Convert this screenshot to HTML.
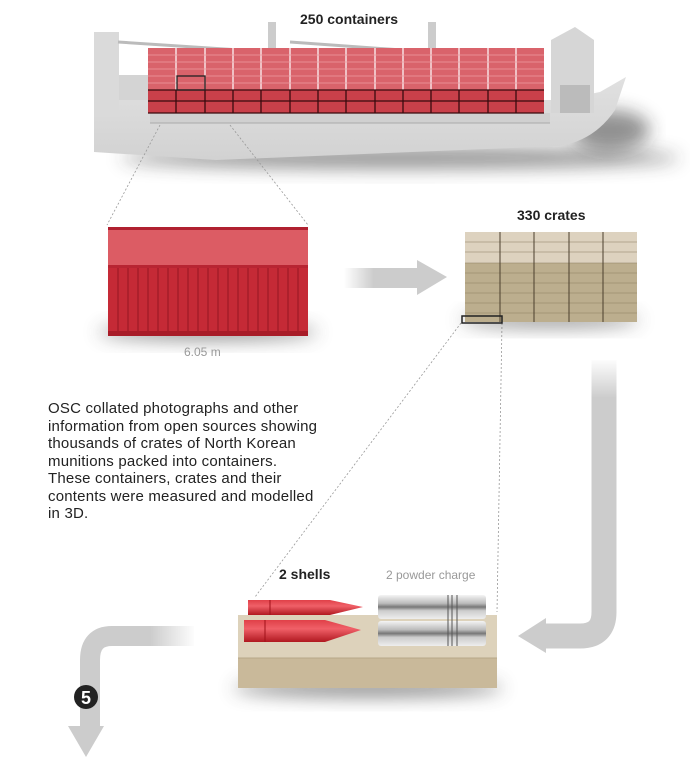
<!DOCTYPE html>
<html><head><meta charset="utf-8"><style>
html,body{margin:0;padding:0;background:#fff;}
body{width:690px;height:766px;position:relative;overflow:hidden;font-family:"Liberation Sans",sans-serif;}
.t{position:absolute;white-space:nowrap;}
</style></head><body>
<svg width="690" height="766" style="position:absolute;left:0;top:0">
<defs>
<filter id="blur" x="-20%" y="-80%" width="140%" height="260%"><feGaussianBlur stdDeviation="9"/></filter>
<linearGradient id="wL" x1="0" x2="1"><stop offset="0" stop-color="#fff" stop-opacity="0"/><stop offset="1" stop-color="#fff" stop-opacity="1"/></linearGradient>
<linearGradient id="wR" x1="0" x2="1"><stop offset="0" stop-color="#fff" stop-opacity="1"/><stop offset="1" stop-color="#fff" stop-opacity="0"/></linearGradient>
<linearGradient id="wT" x1="0" y1="0" x2="0" y2="1"><stop offset="0" stop-color="#fff" stop-opacity="1"/><stop offset="1" stop-color="#fff" stop-opacity="0"/></linearGradient>
<linearGradient id="metal" x1="0" y1="0" x2="0" y2="1"><stop offset="0" stop-color="#f4f4f4"/><stop offset="0.35" stop-color="#bbb"/><stop offset="0.5" stop-color="#777"/><stop offset="0.65" stop-color="#ccc"/><stop offset="1" stop-color="#eee"/></linearGradient>
<linearGradient id="shell" x1="0" y1="0" x2="0" y2="1"><stop offset="0" stop-color="#e04048"/><stop offset="0.4" stop-color="#f06068"/><stop offset="1" stop-color="#b01820"/></linearGradient>
<linearGradient id="hull" x1="0" y1="0" x2="0" y2="1"><stop offset="0" stop-color="#e8e8e8"/><stop offset="1" stop-color="#d2d2d2"/></linearGradient>
</defs>
<!-- ship shadow -->
<ellipse cx="400" cy="158" rx="280" ry="10" fill="#333" opacity="0.55" filter="url(#blur)"/>
<ellipse cx="610" cy="130" rx="40" ry="20" fill="#222" opacity="0.5" filter="url(#blur)"/>
<!-- hull -->
<path d="M94,32 L119,32 L119,100 L560,100 L600,92 L626,77 L615,110 Q595,140 560,146 L216,160 L94,152 Z" fill="url(#hull)"/>
<rect x="150" y="113" width="400" height="10" fill="#d0d0d0"/>
<line x1="150" y1="123" x2="550" y2="123" stroke="#aaa"/>
<!-- stern tower -->
<rect x="94" y="32" width="25" height="85" fill="#dadada"/>
<rect x="119" y="75" width="30" height="25" fill="#d4d4d4"/>
<!-- bow superstructure -->
<path d="M551,40 L575,27 L594,40 L594,113 L551,113Z" fill="#d6d6d6"/>
<rect x="560" y="85" width="30" height="28" fill="#bbb"/>
<!-- cranes -->
<line x1="118" y1="42" x2="270" y2="52" stroke="#bbb" stroke-width="3"/>
<line x1="290" y1="42" x2="430" y2="52" stroke="#bbb" stroke-width="3"/>
<rect x="268" y="22" width="8" height="32" fill="#ccc"/>
<rect x="428" y="22" width="8" height="32" fill="#ccc"/>
<!-- containers -->
<rect x="148" y="48" width="396" height="42" fill="#d9636b"/>
<rect x="148" y="90" width="396" height="23" fill="#c9404a"/>
<g stroke="#fff" stroke-width="1.2">
<line x1="176" y1="48" x2="176" y2="90"/><line x1="205" y1="48" x2="205" y2="90"/><line x1="233" y1="48" x2="233" y2="90"/><line x1="261" y1="48" x2="261" y2="90"/><line x1="290" y1="48" x2="290" y2="90"/><line x1="318" y1="48" x2="318" y2="90"/><line x1="346" y1="48" x2="346" y2="90"/><line x1="375" y1="48" x2="375" y2="90"/><line x1="403" y1="48" x2="403" y2="90"/><line x1="431" y1="48" x2="431" y2="90"/><line x1="459" y1="48" x2="459" y2="90"/><line x1="488" y1="48" x2="488" y2="90"/><line x1="516" y1="48" x2="516" y2="90"/>
</g>
<g stroke="#ee9aa0" stroke-width="0.7">
<line x1="148" y1="55" x2="544" y2="55"/><line x1="148" y1="62" x2="544" y2="62"/><line x1="148" y1="69" x2="544" y2="69"/><line x1="148" y1="76" x2="544" y2="76"/><line x1="148" y1="83" x2="544" y2="83"/>
</g>
<g stroke="#3a0a0e" stroke-width="1.3">
<line x1="148" y1="90" x2="544" y2="90"/><line x1="148" y1="101" x2="544" y2="101"/><line x1="148" y1="113" x2="544" y2="113"/>
<line x1="176" y1="90" x2="176" y2="113"/><line x1="205" y1="90" x2="205" y2="113"/><line x1="233" y1="90" x2="233" y2="113"/><line x1="261" y1="90" x2="261" y2="113"/><line x1="290" y1="90" x2="290" y2="113"/><line x1="318" y1="90" x2="318" y2="113"/><line x1="346" y1="90" x2="346" y2="113"/><line x1="375" y1="90" x2="375" y2="113"/><line x1="403" y1="90" x2="403" y2="113"/><line x1="431" y1="90" x2="431" y2="113"/><line x1="459" y1="90" x2="459" y2="113"/><line x1="488" y1="90" x2="488" y2="113"/><line x1="516" y1="90" x2="516" y2="113"/>
</g>
<rect x="177" y="76" width="28" height="14" fill="none" stroke="#222" stroke-width="1.3"/>
<!-- dotted connectors -->
<g stroke="#999" stroke-width="0.8" stroke-dasharray="2,2" fill="none">
<line x1="160" y1="125" x2="107" y2="225"/>
<line x1="230" y1="125" x2="308" y2="225"/>
<line x1="461" y1="323" x2="255" y2="597"/>
<line x1="502" y1="323" x2="497" y2="612"/>
</g>
<!-- container -->
<ellipse cx="208" cy="332" rx="110" ry="8" fill="#444" opacity="0.6" filter="url(#blur)"/>
<rect x="108" y="227" width="200" height="109" fill="#c52a36"/>
<rect x="108" y="227" width="200" height="38" fill="#dc5c64"/>
<rect x="108" y="227" width="200" height="3" fill="#b02030"/>
<rect x="108" y="265" width="200" height="3" fill="#b82532"/>
<rect x="108" y="331" width="200" height="5" fill="#a81c28"/>
<g stroke="#a51c28" stroke-width="1.5">
<line x1="118" y1="268" x2="118" y2="331"/><line x1="128" y1="268" x2="128" y2="331"/><line x1="138" y1="268" x2="138" y2="331"/><line x1="148" y1="268" x2="148" y2="331"/><line x1="158" y1="268" x2="158" y2="331"/><line x1="168" y1="268" x2="168" y2="331"/><line x1="178" y1="268" x2="178" y2="331"/><line x1="188" y1="268" x2="188" y2="331"/><line x1="198" y1="268" x2="198" y2="331"/><line x1="208" y1="268" x2="208" y2="331"/><line x1="218" y1="268" x2="218" y2="331"/><line x1="228" y1="268" x2="228" y2="331"/><line x1="238" y1="268" x2="238" y2="331"/><line x1="248" y1="268" x2="248" y2="331"/><line x1="258" y1="268" x2="258" y2="331"/><line x1="268" y1="268" x2="268" y2="331"/><line x1="278" y1="268" x2="278" y2="331"/><line x1="288" y1="268" x2="288" y2="331"/><line x1="298" y1="268" x2="298" y2="331"/>
</g>
<!-- arrow 1 -->
<rect x="344" y="268" width="73" height="20" fill="#ccc"/>
<rect x="344" y="268" width="30" height="20" fill="url(#wR)"/>
<polygon points="417,260 447,277 417,295" fill="#ccc"/>
<!-- crates -->
<ellipse cx="550" cy="320" rx="90" ry="7" fill="#444" opacity="0.6" filter="url(#blur)"/>
<rect x="465" y="232" width="172" height="90" fill="#bcae8e"/>
<rect x="465" y="232" width="172" height="31" fill="#ddd2bf"/>
<g stroke="#8a7c60" stroke-width="0.6">
<line x1="465" y1="242" x2="637" y2="242"/><line x1="465" y1="252" x2="637" y2="252"/><line x1="465" y1="263" x2="637" y2="263"/><line x1="465" y1="273" x2="637" y2="273"/><line x1="465" y1="283" x2="637" y2="283"/><line x1="465" y1="293" x2="637" y2="293"/><line x1="465" y1="303" x2="637" y2="303"/><line x1="465" y1="313" x2="637" y2="313"/>
</g>
<g stroke="#4a3f2c" stroke-width="1">
<line x1="500" y1="232" x2="500" y2="322"/><line x1="534" y1="232" x2="534" y2="322"/><line x1="569" y1="232" x2="569" y2="322"/><line x1="603" y1="232" x2="603" y2="322"/>
</g>
<rect x="462" y="316" width="40" height="7" fill="none" stroke="#222" stroke-width="1.5"/>
<!-- right down arrow -->
<path d="M604,360 L604,612 Q604,636 580,636 L546,636" fill="none" stroke="#ccc" stroke-width="25"/>
<rect x="588" y="358" width="34" height="40" fill="url(#wT)"/>
<polygon points="546,618 518,636 546,653" fill="#ccc"/>
<!-- block -->
<ellipse cx="368" cy="688" rx="135" ry="9" fill="#444" opacity="0.6" filter="url(#blur)"/>
<rect x="238" y="615" width="259" height="73" fill="#c9b99a"/>
<rect x="238" y="615" width="259" height="43" fill="#ddd2bb"/>
<line x1="238" y1="658" x2="497" y2="658" stroke="#b8a888"/>
<!-- shells -->
<path d="M248,600 L330,600 L363,607 L330,615 L248,615Z" fill="url(#shell)"/>
<path d="M244,620 L325,620 L361,630 L325,642 L244,642Z" fill="url(#shell)"/>
<line x1="270" y1="600" x2="270" y2="615" stroke="#a01018"/>
<line x1="265" y1="620" x2="265" y2="642" stroke="#a01018"/>
<!-- powder -->
<rect x="378" y="595" width="108" height="24" rx="3" fill="url(#metal)"/>
<rect x="378" y="621" width="108" height="25" rx="3" fill="url(#metal)"/>
<g stroke="#555" stroke-width="1"><line x1="448" y1="595" x2="448" y2="646"/><line x1="452" y1="595" x2="452" y2="646"/><line x1="457" y1="595" x2="457" y2="646"/></g>
<!-- left arrow -->
<path d="M194,636 L112,636 Q90,636 90,660 L90,728" fill="none" stroke="#ccc" stroke-width="20"/>
<rect x="150" y="624" width="46" height="24" fill="url(#wL)"/>
<polygon points="68,726 104,726 86,757" fill="#ccc"/>
<circle cx="86" cy="697" r="12" fill="#222"/>
<text x="86" y="704" text-anchor="middle" font-family="Liberation Sans" font-weight="bold" font-size="18" fill="#fff">5</text>
</svg>
<div class="t" style="left:300px;top:11px;font-size:14px;font-weight:bold;color:#222">250 containers</div>
<div class="t" style="left:517px;top:207px;font-size:14px;font-weight:bold;color:#222">330 crates</div>
<div class="t" style="left:184px;top:345px;font-size:12px;color:#999">6.05 m</div>
<div class="t" style="left:279px;top:566px;font-size:14px;font-weight:bold;color:#222">2 shells</div>
<div class="t" style="left:386px;top:568px;font-size:12px;color:#999">2 powder charge</div>
<div class="t" style="left:48px;top:400px;font-size:15px;line-height:17.5px;color:#222;letter-spacing:0.2px">OSC collated photographs and other<br>information from open sources showing<br>thousands of crates of North Korean<br>munitions packed into containers.<br>These containers, crates and their<br>contents were measured and modelled<br>in 3D.</div>
</body></html>
